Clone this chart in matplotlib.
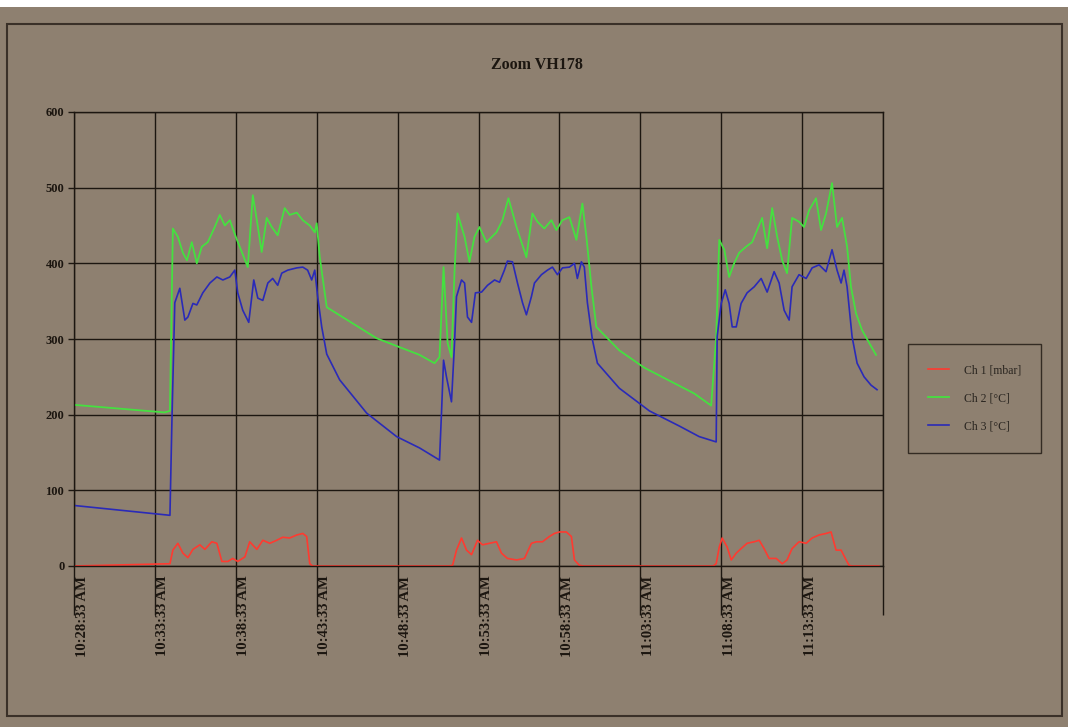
import matplotlib
matplotlib.use('Agg')
import matplotlib.pyplot as plt
import matplotlib.transforms as mtransforms
from matplotlib.patches import Rectangle

# minutes after 10:28:33 AM
tick_minutes = [0, 5, 10, 15, 20, 25, 30, 35, 40, 45, 50]
tick_labels = ['10:28:33 AM', '10:33:33 AM', '10:38:33 AM', '10:43:33 AM',
               '10:48:33 AM', '10:53:33 AM', '10:58:33 AM', '11:03:33 AM',
               '11:08:33 AM', '11:13:33 AM', '']

# Ch 1 [mbar]
ch1_t = [0.0, 5.93, 6.11, 6.42, 6.73, 7.04, 7.35, 7.78, 8.09, 8.52,
         8.83, 9.14, 9.51, 9.81, 10.12, 10.56, 10.86, 11.30, 11.67, 12.10,
         12.53, 12.90, 13.33, 13.77, 14.14, 14.38, 14.57, 14.75, 23.20, 23.40,
         23.64, 23.95, 24.26, 24.57, 24.94, 25.25, 25.68, 26.11, 26.42, 26.79,
         27.35, 27.84, 28.27, 28.58, 28.95, 29.38, 29.69, 30.0, 30.43, 30.74,
         30.93, 31.23, 31.5, 39.5, 39.69, 39.88, 40.06, 40.37, 40.62, 40.93,
         41.23, 41.60, 42.04, 42.35, 42.65, 42.96, 43.40, 43.77, 44.07, 44.38,
         44.81, 45.25, 45.62, 46.05, 46.48, 46.79, 47.10, 47.41, 47.72, 47.90,
         48.1, 49.75]
ch1_v = [0, 3, 21, 30, 17, 11, 22, 28, 22, 32,
         30, 6, 6, 10, 6, 12, 32, 22, 34, 30,
         34, 38, 37, 41, 43, 39, 3, 0, 0, 1,
         21, 37, 21, 15, 34, 28, 30, 32, 17, 10,
         8, 10, 30, 32, 32, 39, 43, 45, 45, 39,
         8, 1, 0, 0, 3, 25, 37, 25, 8, 17,
         23, 30, 32, 34, 23, 10, 10, 3, 8, 23,
         32, 30, 37, 41, 43, 45, 21, 21, 8, 1,
         0, 0]

# Ch 2 [°C]
ch2_t = [0.0, 5.6, 5.93, 6.11, 6.42, 6.73, 6.98, 7.28, 7.59, 7.90,
         8.27, 8.70, 9.01, 9.32, 9.63, 10.0, 10.37, 10.74, 11.05, 11.30,
         11.60, 11.91, 12.22, 12.59, 13.02, 13.33, 13.77, 14.14, 14.57, 14.88,
         15.0, 15.19, 15.62, 18.70, 21.36, 22.28, 22.59, 22.84, 23.09, 23.33,
         23.52, 23.70, 24.14, 24.44, 24.75, 25.06, 25.49, 26.11, 26.48, 26.85,
         27.35, 27.96, 28.33, 28.64, 29.07, 29.51, 29.81, 30.19, 30.62, 31.05,
         31.42, 31.67, 31.98, 32.28, 33.70, 35.25, 36.79, 38.33, 39.38, 39.69,
         39.88, 40.19, 40.49, 40.80, 41.11, 41.54, 41.91, 42.22, 42.53, 42.84,
         43.15, 43.46, 43.77, 44.07, 44.38, 44.81, 45.12, 45.43, 45.86, 46.17,
         46.48, 46.85, 47.16, 47.47, 47.78, 48.02, 48.33, 48.70, 49.14, 49.57]
ch2_v = [213, 203, 205, 446, 435, 414, 404, 428, 400, 422,
         428, 448, 464, 450, 457, 435, 415, 395, 490, 457,
         415, 460, 448, 437, 473, 464, 467, 457, 450, 441,
         453, 408, 342, 301, 279, 268, 276, 395, 295, 276,
         391, 466, 435, 402, 435, 448, 428, 441, 457, 486,
         448, 408, 466, 455, 446, 457, 444, 457, 461, 431,
         479, 435, 369, 316, 285, 262, 245, 228, 212, 303,
         431, 418, 382, 400, 414, 422, 428, 444, 460, 420,
         473, 435, 404, 387, 460, 455, 448, 470, 486, 444,
         466, 506, 448, 460, 422, 369, 334, 312, 295, 279]

# Ch 3 [°C]
ch3_t = [0.0, 5.93, 6.05, 6.23, 6.54, 6.85, 7.04, 7.35, 7.59, 7.96,
         8.40, 8.83, 9.20, 9.63, 9.94, 10.12, 10.43, 10.80, 11.11, 11.36,
         11.67, 11.98, 12.28, 12.59, 12.84, 13.21, 13.77, 14.14, 14.44, 14.69,
         14.88, 15.06, 15.31, 15.62, 16.42, 18.09, 19.94, 21.36, 22.59, 22.72,
         22.84, 23.02, 23.33, 23.52, 23.64, 23.95, 24.14, 24.32, 24.57, 24.81,
         25.19, 25.56, 25.99, 26.30, 26.60, 26.79, 27.10, 27.41, 27.72, 27.96,
         28.27, 28.46, 28.89, 29.26, 29.57, 29.88, 30.19, 30.62, 30.93, 31.11,
         31.36, 31.54, 31.73, 32.04, 32.35, 33.70, 35.56, 37.41, 38.64, 39.69,
         39.75, 40.0, 40.25, 40.49, 40.68, 40.93, 41.23, 41.60, 42.04, 42.47,
         42.84, 43.27, 43.58, 43.89, 44.20, 44.38, 44.81, 45.25, 45.62, 46.05,
         46.48, 46.85, 47.16, 47.41, 47.59, 47.78, 48.09, 48.40, 48.83, 49.26,
         49.63]
ch3_v = [80, 67, 190, 348, 367, 325, 329, 347, 345, 361,
         374, 382, 378, 382, 391, 361, 338, 322, 378, 354,
         351, 374, 380, 371, 387, 391, 394, 395, 391, 378,
         391, 356, 316, 280, 246, 202, 171, 156, 140, 206,
         272, 250, 217, 295, 356, 378, 374, 329, 322, 361,
         362, 371, 378, 375, 391, 403, 402, 374, 348, 332,
         356, 374, 385, 391, 395, 385, 394, 395, 400, 380,
         402, 395, 348, 299, 268, 235, 205, 185, 171, 164,
         303, 347, 365, 347, 316, 316, 347, 361, 369, 380,
         362, 389, 374, 338, 325, 369, 385, 380, 394, 398,
         389, 418, 391, 374, 391, 369, 303, 268, 250, 239,
         233]

bg = '#8e8070'
dark = '#1c1610'
serif = ['Liberation Serif', 'DejaVu Serif']

fig = plt.figure(figsize=(10.68, 7.27), dpi=100)
fig.patch.set_facecolor(bg)
# white strip at the very top and the outer chart border
fig.add_artist(Rectangle((0, 1 - 7 / 727), 1, 7 / 727, transform=fig.transFigure,
                         facecolor='white', edgecolor='none'))
fig.add_artist(Rectangle((7 / 1068, 11 / 727), 1055 / 1068, 692 / 727,
                         transform=fig.transFigure, facecolor='none',
                         edgecolor='#3a3028', lw=1.5))

ax = fig.add_axes([74 / 1068, 161 / 727, 809 / 1068, 454 / 727])
ax.set_facecolor(bg)

ax.plot(ch1_t, ch1_v, color='#ff3a30', lw=1.2, label='Ch 1 [mbar]')
ax.plot(ch2_t, ch2_v, color='#45e040', lw=1.3, label='Ch 2 [°C]')
ax.plot(ch3_t, ch3_v, color='#2a2ab8', lw=1.2, label='Ch 3 [°C]')

ax.set_xlim(0, 50)
ax.set_ylim(0, 600)
ax.set_yticks([0, 100, 200, 300, 400, 500, 600])
ax.set_xticks(tick_minutes)
ax.set_xticklabels(tick_labels, rotation=90, va='top', ha='center',
                   family=serif, fontweight='bold', fontsize=10.5, color=dark)
for lab in ax.get_yticklabels():
    lab.set_family(serif)
    lab.set_fontweight('bold')
    lab.set_fontsize(9)
    lab.set_color(dark)

ax.grid(True, color=dark, lw=1.0)
ax.set_axisbelow(True)
ax.tick_params(axis='x', length=35, width=1.0, color=dark, direction='out', pad=-28)
ax.tick_params(axis='y', length=4, width=1.0, color=dark, pad=3)
for s in ax.spines.values():
    s.set_color(dark)
    s.set_linewidth(1.0)

offset = mtransforms.ScaledTranslation(8 / 100, 0, fig.dpi_scale_trans)
for lab in ax.get_xticklabels():
    lab.set_transform(lab.get_transform() + offset)

fig.text(537 / 1068, 1 - 65 / 727, 'Zoom VH178', ha='center', va='center',
         family=serif, fontweight='bold', fontsize=11.5, color=dark)

leg = fig.legend(loc='center', bbox_to_anchor=(974.5 / 1068, 1 - 398.5 / 727),
                 frameon=True, fancybox=False, prop={'family': serif, 'size': 8.5},
                 handlelength=1.8, labelspacing=1.35, borderpad=1.7,
                 handletextpad=1.2, borderaxespad=0)
leg.get_frame().set_facecolor(bg)
leg.get_frame().set_edgecolor(dark)
leg.get_frame().set_linewidth(1.0)
for t in leg.get_texts():
    t.set_color('#2a2520')

fig.savefig('out.png', dpi=100, facecolor=fig.get_facecolor())
